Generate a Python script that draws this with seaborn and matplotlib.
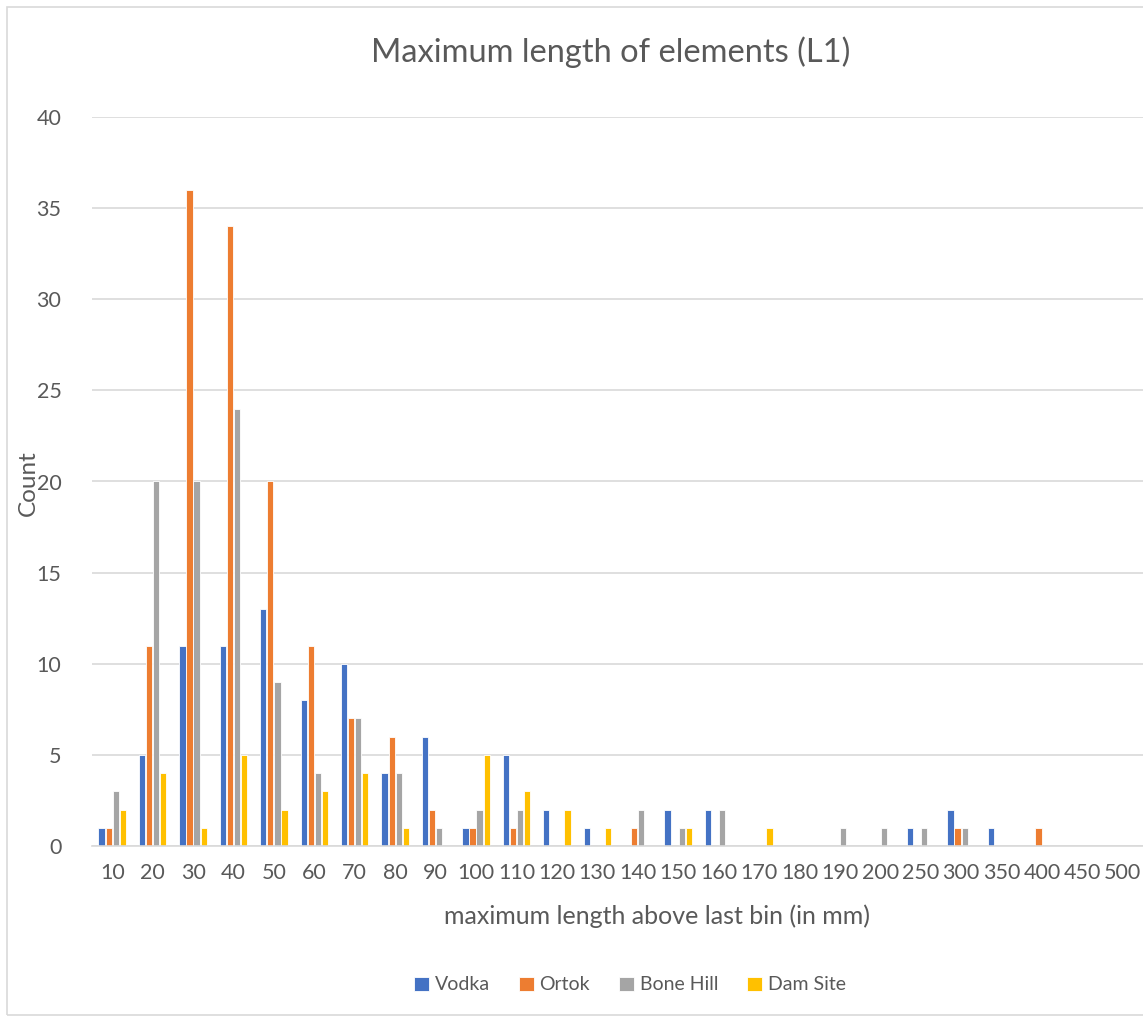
import numpy as np
import pandas as pd
import matplotlib
matplotlib.use("Agg")
import matplotlib.pyplot as plt
import seaborn as sns
from matplotlib.patches import Rectangle

categories = ["10", "20", "30", "40", "50", "60", "70", "80", "90", "100",
              "110", "120", "130", "140", "150", "160", "170", "180", "190", "200",
              "250", "300", "350", "400", "450", "500"]
series_names = ["Vodka", "Ortok", "Bone Hill", "Dam Site"]
vodka = [1, 5, 11, 11, 13, 8, 10, 4, 6, 1, 5, 2, 1, 0, 2, 2, 0, 0, 0, 0, 1, 2, 1, 0, 0, 0]
ortok = [1, 11, 36, 34, 20, 11, 7, 6, 2, 1, 1, 0, 0, 1, 0, 0, 0, 0, 0, 0, 0, 1, 0, 1, 0, 0]
bone_hill = [3, 20, 20, 24, 9, 4, 7, 4, 1, 2, 2, 0, 0, 2, 1, 2, 0, 0, 1, 1, 1, 1, 0, 0, 0, 0]
dam_site = [2, 4, 1, 5, 2, 3, 4, 1, 0, 5, 3, 2, 1, 0, 1, 0, 1, 0, 0, 0, 0, 0, 0, 0, 0, 0]
colors = ["#4472C4", "#ED7D31", "#A5A5A5", "#FFC000"]

rows = []
for name, vals in zip(series_names, [vodka, ortok, bone_hill, dam_site]):
    for c, v in zip(categories, vals):
        rows.append({"bin": c, "series": name, "count": v})
df = pd.DataFrame(rows)

sns.set_theme(style="white")
plt.rcParams['font.family'] = ['Lato', 'DejaVu Sans']

W, H = 1143, 1021
fig = plt.figure(figsize=(W / 100, H / 100), dpi=100)
ax = fig.add_axes([92 / W, 1 - 846 / H, 1 - 92 / W, (846 - 117) / H])

sns.barplot(data=df, x="bin", y="count", hue="series", order=categories,
            hue_order=series_names, palette=colors, saturation=1, width=0.7, gap=0.12,
            edgecolor="white", linewidth=0.6, ax=ax, legend=True)

ax.set_ylim(0, 40)
ax.set_yticks(range(0, 41, 5))
ax.set_xlim(-0.5, len(categories) - 0.5)
ax.yaxis.grid(True, color="#D9D9D9", linewidth=1.2)
ax.set_axisbelow(True)
for s in ["top", "right", "left"]:
    ax.spines[s].set_visible(False)
ax.spines["bottom"].set_color("#D9D9D9")
ax.spines["bottom"].set_linewidth(1.2)
ax.tick_params(axis="both", length=0, labelsize=15.5, labelcolor="#595959")
ax.tick_params(axis="y", pad=22)
ax.tick_params(axis="x", pad=12)

ax.set_xlabel("")
ax.set_ylabel("Count", fontsize=17.5, color="#595959")
ax.yaxis.set_label_coords((39 - 92) / (W - 92), (846 - 483) / (846 - 117))
fig.text(657 / W, 1 - 916 / H, "maximum length above last bin (in mm)", ha="center", va="center",
         fontsize=18, color="#595959")
fig.text(611 / W, 1 - 52 / H, "Maximum length of elements (L1)", ha="center", va="center",
         fontsize=23.5, color="#595959")

handles, labels = ax.get_legend_handles_labels()
ax.legend_.remove()
fig.legend(handles, labels, loc="center", bbox_to_anchor=(630 / W, 1 - 985 / H), ncol=4,
           frameon=False, fontsize=14, labelcolor="#595959", handlelength=0.75, handleheight=0.75,
           handletextpad=0.3, columnspacing=1.5)

fig.patches.append(Rectangle((7 / W, 1 - 1015 / H), 1 - 7 / W + 0.01, (1015 - 7) / H,
                             transform=fig.transFigure, fill=False, edgecolor="#D9D9D9", linewidth=1.2))

fig.savefig("out.png", dpi=100, facecolor="white")
